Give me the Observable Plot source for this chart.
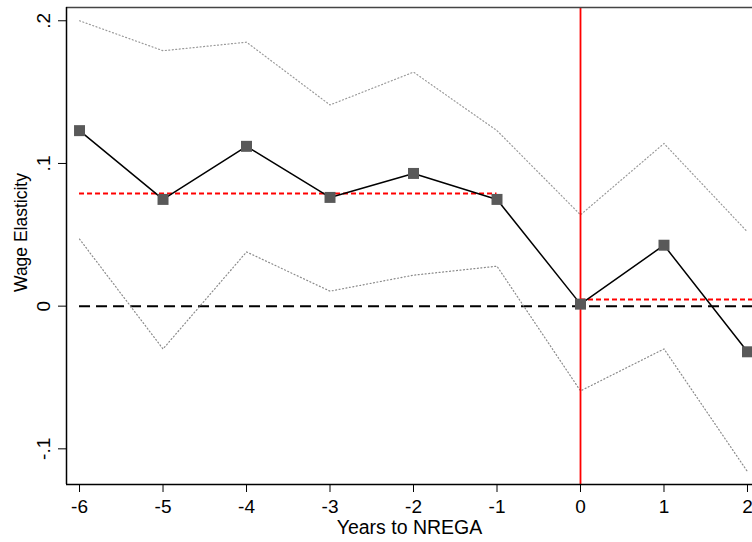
<!DOCTYPE html>
<html><head><meta charset="utf-8">
<script src="https://cdn.jsdelivr.net/npm/d3@7"></script>
<script src="https://cdn.jsdelivr.net/npm/@observablehq/plot@0.6"></script>
<style>body{margin:0;background:#fff;} svg{display:block;}</style>
</head><body><div id="chart"></div>
<script>
const years = [-6, -5, -4, -3, -2, -1, 0, 1, 2];
const estimate = [0.123, 0.0748, 0.112, 0.0762, 0.093, 0.0748, 0.0014, 0.0427, -0.032];
const upperCI = [0.200, 0.179, 0.185, 0.141, 0.164, 0.123, 0.064, 0.114, 0.052];
const lowerCI = [0.047, -0.030, 0.038, 0.0105, 0.0217, 0.028, -0.0594, -0.030, -0.116];
const preMean = 0.079;
const postMean = 0.0047;
const xTicks = [-6, -5, -4, -3, -2, -1, 0, 1, 2];
const yTicks = [-0.1, 0, 0.1, 0.2];
const xTitle = "Years to NREGA";
const yTitle = "Wage Elasticity";

const rows = years.map((yr, i) => ({year: yr, est: estimate[i], hi: upperCI[i], lo: lowerCI[i]}));
const xMin = -6.156, xMax = 2.06, yMin = -0.125, yMax = 0.2093;
const fmtY = d => d === 0 ? "0" : String(d).replace("0.", ".");

const chart = Plot.plot({
  width: 752, height: 542,
  marginLeft: 66, marginRight: 0, marginTop: 7, marginBottom: 58,
  style: {fontFamily: "'Liberation Sans', Arial, Helvetica, sans-serif", background: "white", color: "black"},
  x: {domain: [xMin, xMax]},
  y: {domain: [yMin, yMax]},
  marks: [
    Plot.ruleY([0], {x1: -6, x2: xMax, stroke: "black", strokeWidth: 2, strokeDasharray: "11,6"}),
    Plot.line(rows, {x: "year", y: "hi", stroke: "#9a9a9a", strokeWidth: 1.2, strokeDasharray: "1,2.5"}),
    Plot.line(rows, {x: "year", y: "lo", stroke: "#8a8a8a", strokeWidth: 1.2, strokeDasharray: "1,2.5"}),
    Plot.ruleY([preMean], {x1: -6, x2: -1, stroke: "#ff0000", strokeWidth: 2, strokeDasharray: "5,3"}),
    Plot.ruleY([postMean], {x1: 0, x2: xMax, stroke: "#ff0000", strokeWidth: 2, strokeDasharray: "5,3"}),
    Plot.ruleX([0], {stroke: "#ff0000", strokeWidth: 1.8}),
    Plot.line(rows, {x: "year", y: "est", stroke: "black", strokeWidth: 1.5}),
    Plot.dot(rows, {x: "year", y: "est", symbol: "square", r: 6.2, fill: "#595959", stroke: "none"}),
    Plot.ruleY([yMin], {stroke: "black", strokeWidth: 1.5}),
    Plot.ruleY([yMax], {stroke: "#444", strokeWidth: 1.5}),
    Plot.ruleX([xMin], {stroke: "black", strokeWidth: 1.5}),
    Plot.axisX({ticks: xTicks, tickSize: 8, tickPadding: 7, fontSize: 19, label: null, tickFormat: d => String(d)}),
    Plot.axisY({ticks: yTicks, tickSize: 8, tickPadding: 9, tickRotate: -90, fontSize: 19, label: null, tickFormat: fmtY}),
    Plot.text([xTitle], {frameAnchor: "bottom", lineAnchor: "bottom", dy: 49, fontSize: 19.5, fill: "black"}),
    Plot.text([yTitle], {frameAnchor: "left", textAnchor: "middle", dx: -45, dy: -13.5, rotate: -90, fontSize: 17.5, fill: "black"})
  ]
});
document.getElementById("chart").appendChild(chart);
</script>
</body></html>
